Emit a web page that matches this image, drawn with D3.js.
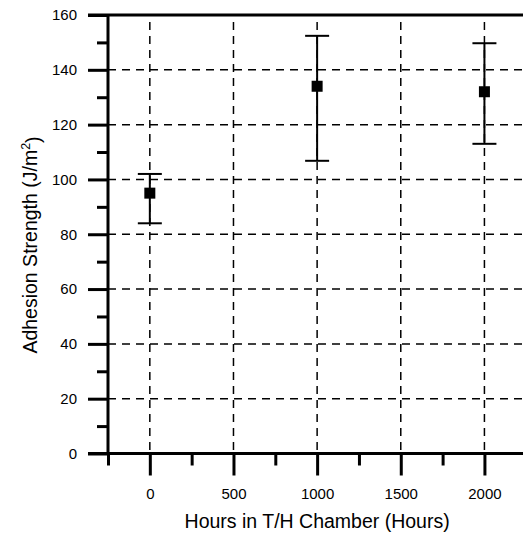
<!DOCTYPE html>
<html>
<head>
<meta charset="utf-8">
<script src="https://cdn.jsdelivr.net/npm/d3@7/dist/d3.min.js"></script>
<style>
  html, body { margin: 0; padding: 0; background: #fff; }
  svg { display: block; font-family: "Liberation Sans", Arial, sans-serif; }
</style>
</head>
<body>
<svg id="chart" width="523" height="534"></svg>
<script>
// Adhesion strength after exposure in the temperature/humidity chamber
const hours = [0, 1000, 2000];
const strength = [95, 134, 132];
const errLow = [84, 106.8, 113];
const errHigh = [102, 152.4, 149.7];

const xMajorTicks = [0, 500, 1000, 1500, 2000];
const xMinorTicks = [-250, 250, 750, 1250, 1750, 2250];
const yMajorTicks = [0, 20, 40, 60, 80, 100, 120, 140, 160];
const yMinorTicks = [10, 30, 50, 70, 90, 110, 130, 150];

const xTitle = "Hours in T/H Chamber (Hours)";
const yTitle = "Adhesion Strength (J/m";

const svg = d3.select("#chart");
const plotLeft = 108, plotTop = 15, plotBottom = 453.5;
const plotRight = plotLeft + 2500 / 500 * 83.65;

const x = d3.scaleLinear().domain([-250, 2250]).range([plotLeft, plotRight]);
const y = d3.scaleLinear().domain([0, 160]).range([plotBottom, plotTop]);

// dashed grid
const grid = svg.append("g")
  .attr("stroke", "#000").attr("stroke-width", 1.5)
  .attr("stroke-dasharray", "8,6").attr("fill", "none");
grid.selectAll("line.h").data(yMajorTicks.filter(v => v > 0 && v < 160))
  .join("line").attr("class", "h")
  .attr("x1", plotLeft).attr("x2", plotRight)
  .attr("y1", d => y(d)).attr("y2", d => y(d));
grid.selectAll("line.v").data(xMajorTicks)
  .join("line").attr("class", "v")
  .attr("x1", d => x(d)).attr("x2", d => x(d))
  .attr("y1", plotTop + 7).attr("y2", plotBottom);

// axes
function styleAxis(g) {
  g.select(".domain").remove();
  g.selectAll(".tick line").attr("stroke", "#000").attr("stroke-width", 3);
  g.selectAll(".tick text").attr("fill", "#000").style("font-size", "15px");
}

svg.append("g").attr("transform", `translate(${plotLeft},0)`)
  .call(d3.axisLeft(y).tickValues(yMinorTicks).tickSize(11).tickFormat(""))
  .call(styleAxis);
svg.append("g").attr("transform", `translate(${plotLeft},0)`)
  .call(d3.axisLeft(y).tickValues(yMajorTicks).tickSize(20).tickPadding(11).tickFormat(d3.format("d")))
  .call(styleAxis);

svg.append("g").attr("transform", `translate(0,${plotBottom})`)
  .call(d3.axisBottom(x).tickValues(xMinorTicks).tickSize(12).tickFormat(""))
  .call(styleAxis);
svg.append("g").attr("transform", `translate(0,${plotBottom})`)
  .call(d3.axisBottom(x).tickValues(xMajorTicks).tickSize(22).tickPadding(13).tickFormat(d3.format("d")))
  .call(styleAxis);

// frame
const frame = svg.append("g").attr("stroke", "#000").attr("stroke-width", 3).attr("fill", "none");
frame.append("line").attr("x1", plotLeft).attr("x2", plotLeft).attr("y1", plotTop).attr("y2", plotBottom);
frame.append("line").attr("x1", plotLeft - 20).attr("x2", plotRight).attr("y1", plotBottom).attr("y2", plotBottom);
frame.append("line").attr("x1", plotLeft - 20).attr("x2", plotRight).attr("y1", plotTop).attr("y2", plotTop);
frame.append("line").attr("x1", plotRight).attr("x2", plotRight).attr("y1", plotTop).attr("y2", plotBottom);

// error bars
const pts = hours.map((h, i) => ({ h, v: strength[i], lo: errLow[i], hi: errHigh[i] }));
const eb = svg.append("g").attr("stroke", "#000").attr("stroke-width", 2);
eb.selectAll("line.stem").data(pts).join("line").attr("class", "stem")
  .attr("x1", d => x(d.h)).attr("x2", d => x(d.h))
  .attr("y1", d => y(d.lo)).attr("y2", d => y(d.hi));
eb.selectAll("line.capHi").data(pts).join("line").attr("class", "capHi")
  .attr("x1", d => x(d.h) - 12).attr("x2", d => x(d.h) + 12)
  .attr("y1", d => y(d.hi)).attr("y2", d => y(d.hi));
eb.selectAll("line.capLo").data(pts).join("line").attr("class", "capLo")
  .attr("x1", d => x(d.h) - 12).attr("x2", d => x(d.h) + 12)
  .attr("y1", d => y(d.lo)).attr("y2", d => y(d.lo));

// square markers
const ms = 11;
svg.append("g").selectAll("rect").data(pts).join("rect")
  .attr("x", d => x(d.h) - ms / 2).attr("y", d => y(d.v) - ms / 2)
  .attr("width", ms).attr("height", ms).attr("fill", "#000");

// axis titles
svg.append("text")
  .attr("x", (plotLeft + plotRight) / 2).attr("y", 528)
  .attr("text-anchor", "middle").style("font-size", "19.5px")
  .text(xTitle);

const yt = svg.append("text")
  .attr("transform", "translate(36.5,245) rotate(-90)")
  .attr("text-anchor", "middle").style("font-size", "19.5px");
yt.append("tspan").text(yTitle);
yt.append("tspan").attr("dy", "-0.5em").style("font-size", "12.5px").text("2");
yt.append("tspan").attr("dy", "0.5em").text(")");
</script>
</body>
</html>
